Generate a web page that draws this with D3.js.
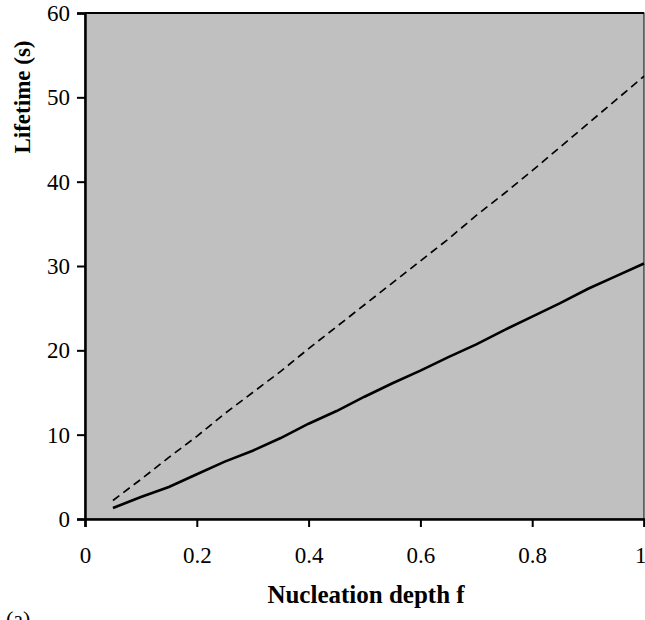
<!DOCTYPE html>
<html>
<head>
<meta charset="utf-8">
<script src="https://cdn.jsdelivr.net/npm/d3@7"></script>
<style>
  body { margin: 0; background: #fff; }
  svg { display: block; font-family: "Liberation Serif", "DejaVu Serif", serif; }
</style>
</head>
<body>
<svg id="chart" width="645" height="620"></svg>
<script>
// nucleation depth f
const depth = [0.05, 0.1, 0.15, 0.2, 0.25, 0.3, 0.35, 0.4, 0.45, 0.5,
               0.55, 0.6, 0.65, 0.7, 0.75, 0.8, 0.85, 0.9, 0.95, 1.0];
// lifetime (s), solid curve
const lifeSolid = [1.3, 2.6, 3.8, 5.3, 6.8, 8.1, 9.6, 11.3, 12.8, 14.5,
                   16.1, 17.6, 19.2, 20.7, 22.4, 24.0, 25.6, 27.3, 28.8, 30.3];
// lifetime (s), dashed curve
const lifeDashed = [2.2, 4.7, 7.3, 9.8, 12.5, 15.0, 17.5, 20.2, 22.8, 25.4,
                    28.0, 30.6, 33.2, 36.0, 38.6, 41.3, 44.1, 46.9, 49.7, 52.5];
const xTicks = [0, 0.2, 0.4, 0.6, 0.8, 1];
const yTicks = [0, 10, 20, 30, 40, 50, 60];

const svg = d3.select("#chart");
const margin = { top: 13, right: 1, bottom: 101, left: 85 };
const W = 645, H = 620;

const x = d3.scaleLinear().domain([0, 1]).range([margin.left, W - margin.right]);
const y = d3.scaleLinear().domain([0, 60]).range([H - margin.bottom, margin.top]);

// plot background
svg.append("rect")
  .attr("x", x(0)).attr("y", y(60))
  .attr("width", x(1) - x(0)).attr("height", y(0) - y(60))
  .attr("fill", "#c0c0c0")
  .attr("stroke", "#000").attr("stroke-width", 1);

// axes
const xAxis = d3.axisBottom(x).tickValues(xTicks).tickSize(8).tickPadding(20)
  .tickFormat(d => d === 0 || d === 1 ? d3.format("d")(d) : d3.format(".1f")(d));
const yAxis = d3.axisLeft(y).tickValues(yTicks).tickSize(8).tickPadding(7)
  .tickFormat(d3.format("d"));

const gx = svg.append("g").attr("transform", `translate(0,${y(0)})`).call(xAxis);
const gy = svg.append("g").attr("transform", `translate(${x(0)},0)`).call(yAxis);
[gx, gy].forEach(g => {
  g.select(".domain").attr("stroke", "#000").attr("stroke-width", 2.5);
  g.selectAll(".tick line").attr("stroke", "#000").attr("stroke-width", 2);
  g.selectAll(".tick text")
    .attr("fill", "#000")
    .style("font-size", "23px")
    .style("font-family", "'Liberation Serif', serif");
});
// keep the last x label inside the page
gx.selectAll(".tick text").filter(d => d === 1).attr("text-anchor", "end").attr("dx", "2");

// top border
svg.append("line")
  .attr("x1", x(0)).attr("x2", x(1)).attr("y1", y(60)).attr("y2", y(60))
  .attr("stroke", "#000").attr("stroke-width", 2);

// curves
const line = d3.line().x(d => x(d[0])).y(d => y(d[1]));
svg.append("path")
  .datum(d3.zip(depth, lifeDashed))
  .attr("d", line)
  .attr("fill", "none").attr("stroke", "#000")
  .attr("stroke-width", 1.7).attr("stroke-dasharray", "8,5");
svg.append("path")
  .datum(d3.zip(depth, lifeSolid))
  .attr("d", line)
  .attr("fill", "none").attr("stroke", "#000")
  .attr("stroke-width", 2.6);

// titles
svg.append("text")
  .attr("x", 366).attr("y", 603)
  .attr("text-anchor", "middle")
  .style("font-size", "25px").style("font-weight", "bold")
  .text("Nucleation depth f");
svg.append("text")
  .attr("transform", "translate(30,97) rotate(-90)")
  .attr("text-anchor", "middle")
  .style("font-size", "23px").style("font-weight", "bold")
  .text("Lifetime (s)");
svg.append("text")
  .attr("x", 6).attr("y", 626)
  .style("font-size", "22px")
  .text("(a)");
</script>
</body>
</html>
